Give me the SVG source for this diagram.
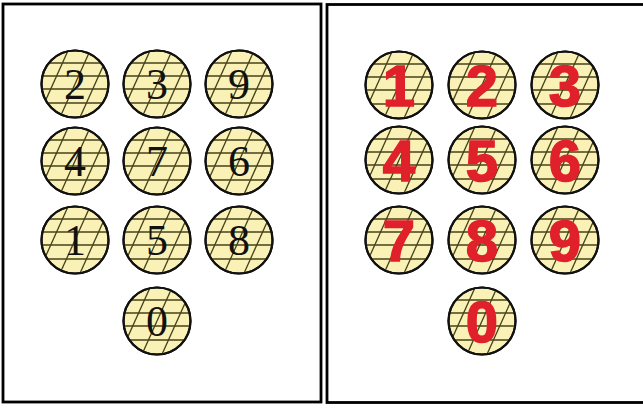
<svg xmlns="http://www.w3.org/2000/svg" width="643" height="408" viewBox="0 0 643 408">
<style>
.panel{fill:#ffffff;stroke:#000000;stroke-width:2.8}
.disc{fill:#f9f1b6;stroke:#111111;stroke-width:2}
.hatch{stroke:#45421a;stroke-width:1.3;fill:none}
.serif{font-family:"Liberation Serif","Times New Roman",serif;font-size:44px;fill:#111111;text-anchor:middle}
.bold{font-family:"Liberation Sans",Arial,sans-serif;font-weight:bold;font-size:58px;fill:#e0202a;stroke:#e0202a;stroke-width:1.5;text-anchor:middle}
</style>
<defs>
<clipPath id="cc"><circle cx="0" cy="0" r="33"/></clipPath>
<g id="disc">
<circle class="disc" cx="0" cy="0" r="33.5"/>
<g class="hatch" clip-path="url(#cc)">
<line x1="-40" y1="-21" x2="40" y2="-21"/>
<line x1="-40" y1="-8" x2="40" y2="-8"/>
<line x1="-40" y1="5" x2="40" y2="5"/>
<line x1="-40" y1="19" x2="40" y2="19"/>
<line x1="-4" y1="-40" x2="-40" y2="40"/>
<line x1="18" y1="-40" x2="-18" y2="40"/>
<line x1="38" y1="-40" x2="2" y2="40"/>
</g>
<circle cx="0" cy="0" r="33.5" fill="none" stroke="#111111" stroke-width="2.2"/>
</g>
</defs>
<rect x="0" y="0" width="643" height="408" fill="#ffffff"/>
<rect class="panel" x="3" y="4" width="318" height="398"/>
<rect class="panel" x="327" y="4.5" width="320" height="398"/>
<g id="left-panel">
<g id="L2"><use href="#disc" x="75" y="84"/><text class="serif" x="75" y="99">2</text></g>
<g id="L3"><use href="#disc" x="157" y="84"/><text class="serif" x="157" y="99">3</text></g>
<g id="L9"><use href="#disc" x="239" y="84"/><text class="serif" x="239" y="99">9</text></g>
<g id="L4"><use href="#disc" x="75" y="161"/><text class="serif" x="75" y="176">4</text></g>
<g id="L7"><use href="#disc" x="157" y="161"/><text class="serif" x="157" y="176">7</text></g>
<g id="L6"><use href="#disc" x="239" y="161"/><text class="serif" x="239" y="176">6</text></g>
<g id="L1"><use href="#disc" x="75" y="240"/><text class="serif" x="75" y="255">1</text></g>
<g id="L5"><use href="#disc" x="157" y="240"/><text class="serif" x="157" y="255">5</text></g>
<g id="L8"><use href="#disc" x="239" y="240"/><text class="serif" x="239" y="255">8</text></g>
<g id="L0"><use href="#disc" x="157" y="321"/><text class="serif" x="157" y="336">0</text></g>
</g>
<g id="right-panel">
<g id="R1"><use href="#disc" x="399" y="85"/><text class="bold" x="399" y="106">1</text></g>
<g id="R2"><use href="#disc" x="482" y="85"/><text class="bold" x="482" y="106">2</text></g>
<g id="R3"><use href="#disc" x="565" y="85"/><text class="bold" x="565" y="106">3</text></g>
<g id="R4"><use href="#disc" x="399" y="160"/><text class="bold" x="399" y="181">4</text></g>
<g id="R5"><use href="#disc" x="482" y="160"/><text class="bold" x="482" y="181">5</text></g>
<g id="R6"><use href="#disc" x="565" y="160"/><text class="bold" x="565" y="181">6</text></g>
<g id="R7"><use href="#disc" x="399" y="240"/><text class="bold" x="399" y="261">7</text></g>
<g id="R8"><use href="#disc" x="482" y="240"/><text class="bold" x="482" y="261">8</text></g>
<g id="R9"><use href="#disc" x="565" y="240"/><text class="bold" x="565" y="261">9</text></g>
<g id="R0"><use href="#disc" x="482" y="321"/><text class="bold" x="482" y="342">0</text></g>
</g>
<g id="connectors"/>
</svg>
